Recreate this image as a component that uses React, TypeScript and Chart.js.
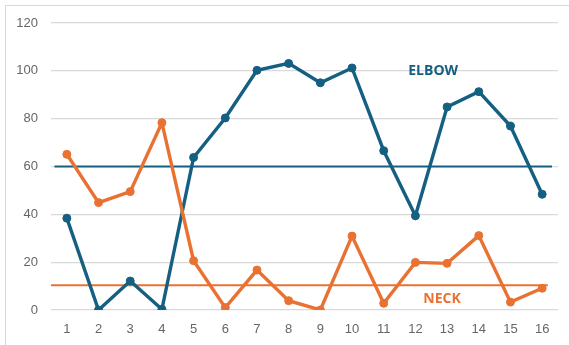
import React, { useEffect, useRef } from "react";
import { Chart, registerables } from "chart.js";

Chart.register(...registerables);

const CATEGORIES = ["1","2","3","4","5","6","7","8","9","10","11","12","13","14","15","16"];
const ELBOW = [38.4, 0, 12.1, 0.3, 63.8, 80.3, 100.2, 103.1, 95.0, 101.2, 66.6, 39.4, 84.9, 91.3, 76.9, 48.4];
const NECK = [65.1, 44.9, 49.5, 78.3, 20.6, 1.0, 16.7, 3.9, 0, 30.9, 2.8, 19.9, 19.5, 31.1, 3.3, 9.1];
const ELBOW_REF = 60;
const NECK_REF = 10.3;
const ELBOW_REF_X = [0.61, 16.31];
const NECK_REF_X = [0.5, 16.18];
const Y_TICKS = [0, 20, 40, 60, 80, 100, 120];
const LABELS = ["ELBOW", "NECK"];
const LABEL_X = [12.56, 12.84];
const LABEL_Y = [100, 4.8];

const BLUE = "#156082";
const ORANGE = "#E97132";
const LABEL_COLORS = [BLUE, ORANGE];

const labelPlugin = {
  id: "seriesLabels",
  afterDatasetsDraw(chart: any) {
    const ctx = chart.ctx;
    const xs = chart.scales.x2;
    const ys = chart.scales.y;
    ctx.save();
    ctx.font = "bold 14px 'Open Sans'";
    ctx.textAlign = "center";
    ctx.textBaseline = "middle";
    LABELS.forEach((t, i) => {
      ctx.fillStyle = LABEL_COLORS[i];
      ctx.fillText(t, xs.getPixelForValue(LABEL_X[i]), ys.getPixelForValue(LABEL_Y[i]));
    });
    ctx.restore();
  },
};

export default function App() {
  const ref = useRef<HTMLCanvasElement>(null);
  useEffect(() => {
    document.body.style.margin = "0";
    const chart = new Chart(ref.current!, {
      type: "line",
      data: {
        labels: CATEGORIES,
        datasets: [
          {
            label: "NECK",
            data: NECK,
            borderColor: ORANGE,
            backgroundColor: ORANGE,
            borderWidth: 3.4,
            pointRadius: 4,
            pointBorderWidth: 1,
            pointBorderColor: ORANGE,
            pointBackgroundColor: ORANGE,
            tension: 0,
            order: 0,
            xAxisID: "x",
          },
          {
            label: "ELBOW",
            data: ELBOW,
            borderColor: BLUE,
            backgroundColor: BLUE,
            borderWidth: 3.4,
            pointRadius: 4,
            pointBorderWidth: 1,
            pointBorderColor: BLUE,
            pointBackgroundColor: BLUE,
            tension: 0,
            order: 1,
            xAxisID: "x",
          },
          {
            label: "ELBOW ref",
            data: ELBOW_REF_X.map((x) => ({ x, y: ELBOW_REF })),
            borderColor: BLUE,
            borderWidth: 2,
            pointRadius: 0,
            order: 2,
            xAxisID: "x2",
          } as any,
          {
            label: "NECK ref",
            data: NECK_REF_X.map((x) => ({ x, y: NECK_REF })),
            borderColor: ORANGE,
            borderWidth: 2,
            pointRadius: 0,
            order: 2,
            xAxisID: "x2",
          } as any,
        ],
      },
      options: {
        animation: false,
        responsive: true,
        maintainAspectRatio: false,
        layout: { padding: { top: 23, right: 11, left: 0, bottom: 0 } },
        plugins: { legend: { display: false }, tooltip: { enabled: false } },
        scales: {
          x: {
            type: "category",
            offset: true,
            grid: { display: false, drawTicks: false },
            border: { display: false },
            ticks: { color: "#666666", font: { size: 13, family: "'Liberation Sans', Arial" }, padding: 12, maxRotation: 0 },
            afterFit(scale: any) { scale.height = 35; },
          },
          x2: {
            type: "linear",
            display: false,
            min: 0.5,
            max: 16.5,
          },
          y: {
            min: 0,
            max: 120,
            afterBuildTicks(scale: any) { scale.ticks = Y_TICKS.map((v) => ({ value: v })); },
            grid: { color: "#d9d9d9", lineWidth: 1.3, drawTicks: false },
            border: { display: false },
            ticks: { color: "#666666", font: { size: 13, family: "'Liberation Sans', Arial" }, padding: 13 },
            afterFit(scale: any) { scale.width = 51; },
          },
        },
      },
      plugins: [labelPlugin],
    });
    return () => chart.destroy();
  }, []);
  return (
    <div style={{ position: "fixed", left: 0, top: 0, width: 569, height: 345, background: "#fff" }}>
      <div style={{ position: "absolute", left: 5, top: 5, right: -2, bottom: -2, borderLeft: "1.5px solid #d9d9d9", borderTop: "1.5px solid #d9d9d9" }} />
      <canvas ref={ref} style={{ position: "absolute", left: 0, top: 0 }} />
    </div>
  );
}
